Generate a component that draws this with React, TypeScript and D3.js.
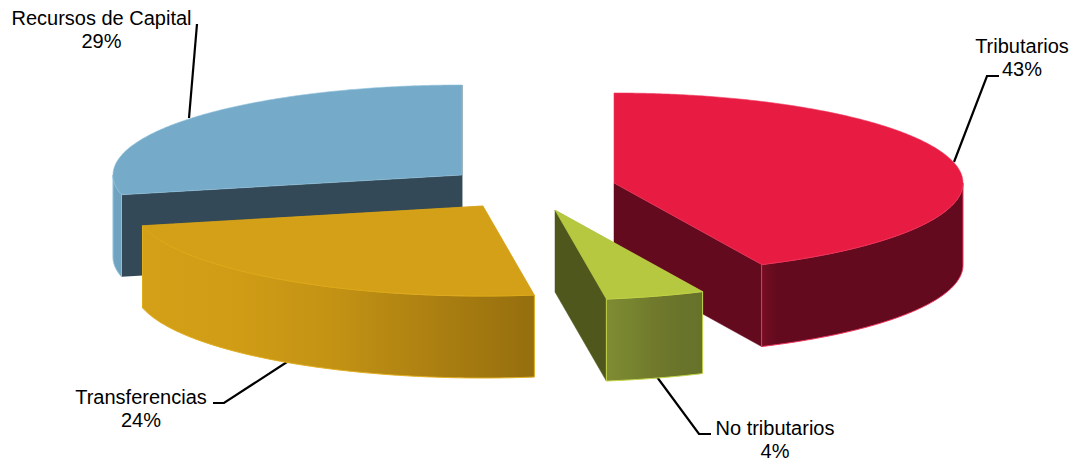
import React from "react";
import * as d3 from "d3";

const categories = ["Tributarios", "No tributarios", "Transferencias", "Recursos de Capital"];
const values = [43.05, 4.6, 23.83, 28.52];
const percentLabels = ["43%", "4%", "24%", "29%"];

const topColors = ["#e81c43", "#b5c840", "#d4a017", "#75abc9"];
const edgeColors = ["#f0365c", "#c6d64a", "#e0ad1c", "#8fc0da"];
const faceColors = ["#640a1e", "#4f571c", "#b08412", "#334957"];
const wallStops: string[][] = [
  ["#770e24", "#640a1e", "#640a1e", "#640a1e", "#640a1e"],
  ["#7f8c33", "#788530", "#70792c", "#6a752b", "#66712a"],
  ["#d4a017", "#d09c16", "#c29214", "#ab7f11", "#956e0e"],
  ["#72a7c4", "#6fa3c0", "#6fa3c0", "#6fa3c0", "#6fa3c0"],
];

const W = 1077;
const H = 462;
const RX = 349;
const RY = 90;
const DEPTH = 82;
// exploded apex of every slice, in category order
const APEX: [number, number][] = [[614, 183], [555, 210], [483, 206], [462, 175]];
const DRAW_ORDER = [3, 0, 1, 2];

const LABELS = [
  { x: 1022, y: 53, dy: 23 },
  { x: 775, y: 435, dy: 23 },
  { x: 141, y: 404, dy: 23 },
  { x: 101.5, y: 25, dy: 23 },
];
const LEADERS: [number, number][][] = [
  [[999, 76], [987, 76], [954, 162]],
  [[711, 434], [699, 434], [657, 377]],
  [[213, 403], [224, 403], [287, 362]],
  [[197, 24], [189, 118]],
];

const x = d3.scaleLinear().domain([-1, 1]).range([-RX, RX]);
const y = d3.scaleLinear().domain([-1, 1]).range([RY, -RY]);
const lineGen = d3.line<[number, number]>();

const pieLayout = d3.pie<number>().sort(null).startAngle(0).endAngle(2 * Math.PI);

function rim(i: number, a0: number, a1: number, dz = 0): [number, number][] {
  const [cx, cy] = APEX[i];
  const n = Math.max(2, Math.ceil(Math.abs(a1 - a0) / (Math.PI / 360)));
  return d3.range(n + 1).map((k) => {
    const a = a0 + ((a1 - a0) * k) / n;
    return [cx + x(Math.sin(a)), cy + y(Math.cos(a)) + dz] as [number, number];
  });
}

export default function App() {
  const arcs = pieLayout(values);
  return (
    <svg
      width={W}
      height={H}
      viewBox={`0 0 ${W} ${H}`}
      style={{ position: "absolute", left: 0, top: 0, background: "#fff" }}
    >
      <defs>
        {arcs.map((arc, i) => {
          const a0 = Math.max(arc.startAngle, Math.PI / 2);
          const a1 = Math.min(arc.endAngle, (3 * Math.PI) / 2);
          const xs = rim(i, a0, a1).map((p) => p[0]);
          return (
            <linearGradient
              key={i}
              id={`wall${i}`}
              gradientUnits="userSpaceOnUse"
              x1={d3.min(xs)}
              x2={i === 0 ? (d3.min(xs) as number) + 60 : d3.max(xs)}
              y1={0}
              y2={0}
            >
              {wallStops[i].map((c, k, all) => (
                <stop key={k} offset={k / (all.length - 1)} stopColor={c} />
              ))}
            </linearGradient>
          );
        })}
      </defs>

      {LEADERS.map((pts, i) => (
        <path key={i} d={lineGen(pts) as string} fill="none" stroke="#000" strokeWidth={2.2} />
      ))}

      {DRAW_ORDER.map((i) => {
        const arc = arcs[i];
        const [cx, cy] = APEX[i];
        const face = (a: number) => {
          const p = rim(i, a, a)[0];
          return (lineGen([[cx, cy], p, [p[0], p[1] + DEPTH], [cx, cy + DEPTH]]) as string) + "Z";
        };
        const a0 = Math.max(arc.startAngle, Math.PI / 2);
        const a1 = Math.min(arc.endAngle, (3 * Math.PI) / 2);
        const wall =
          (lineGen([...rim(i, a0, a1), ...rim(i, a1, a0, DEPTH)]) as string) + "Z";
        const top =
          (lineGen([[cx, cy], ...rim(i, arc.startAngle, arc.endAngle)]) as string) + "Z";
        return (
          <g key={i}>
            <path d={face(arc.startAngle)} fill={faceColors[i]} />
            <path d={face(arc.endAngle)} fill={faceColors[i]} stroke={faceColors[i]} strokeWidth={0.5} />
            <path d={wall} fill={`url(#wall${i})`} stroke={edgeColors[i]} strokeWidth={1} />
            <path d={top} fill={topColors[i]} stroke={edgeColors[i]} strokeWidth={0.6} />
          </g>
        );
      })}

      {categories.map((c, i) => (
        <text
          key={c}
          textAnchor="middle"
          fontFamily="'Liberation Sans', Arial, sans-serif"
          fontSize={20}
          fill="#000"
        >
          <tspan x={LABELS[i].x} y={LABELS[i].y}>{c}</tspan>
          <tspan x={LABELS[i].x} y={LABELS[i].y + LABELS[i].dy}>{percentLabels[i]}</tspan>
        </text>
      ))}
    </svg>
  );
}
